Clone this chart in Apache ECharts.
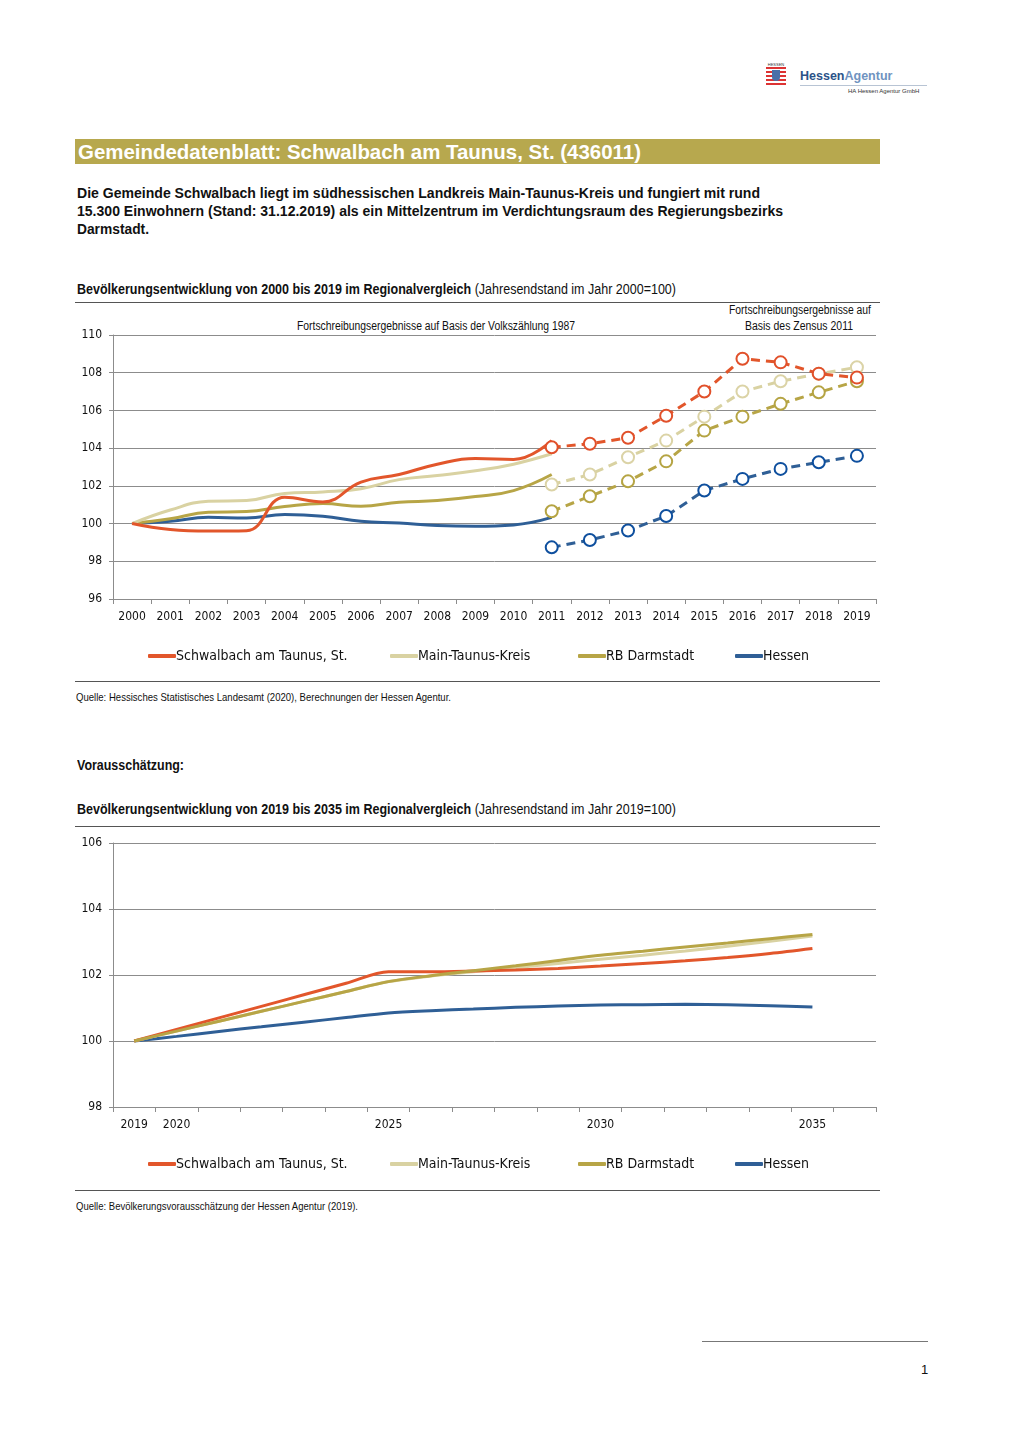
<!DOCTYPE html>
<html><head><meta charset="utf-8">
<script src="https://cdn.jsdelivr.net/npm/echarts@6/dist/echarts.min.js"></script>
<style>
html,body{margin:0;padding:0;background:#fff;}
body{width:1020px;height:1443px;position:relative;overflow:hidden;font-family:"Liberation Sans",Arial,sans-serif;color:#111;}
.abs{position:absolute;white-space:nowrap;}
.fit{display:inline-block;transform-origin:0 50%;}
.rule{position:absolute;height:0;border-top:1.5px solid #555;}
</style></head><body>
<!-- logo -->
<div class="abs" style="left:766px;top:62px;width:20px;height:24px;">
  <div style="font-size:4px;color:#333;text-align:center;line-height:5px;">HESSEN</div>
  <div style="width:20px;height:18px;background:repeating-linear-gradient(#d33 0 2px,#fff 2px 4px);position:relative;">
    <div style="position:absolute;left:6px;top:3px;width:8px;height:11px;background:#4a6fa8;border-radius:0 0 4px 4px;"></div>
  </div>
</div>
<div class="abs" style="left:800px;top:69px;font-size:12.5px;font-weight:bold;"><span style="color:#2b5288">Hessen</span><span style="color:#6f93c0">Agentur</span></div>
<div class="abs" style="left:800px;top:85px;width:127px;border-top:1px solid #b8c4d4;"></div>
<div class="abs" style="left:848px;top:88px;font-size:6px;color:#333;">HA Hessen Agentur GmbH</div>

<!-- title bar -->
<div class="abs" style="left:75px;top:139px;width:805px;height:25px;background:#b7a84e;"></div>
<div class="abs fit" data-w="563" style="left:78px;top:139px;line-height:25px;font-size:21px;font-weight:bold;color:#fff;">Gemeindedatenblatt: Schwalbach am Taunus, St. (436011)</div>

<div class="abs fit" data-w="683" style="left:77px;top:185px;font-size:14px;font-weight:bold;">Die Gemeinde Schwalbach liegt im südhessischen Landkreis Main-Taunus-Kreis und fungiert mit rund</div>
<div class="abs fit" data-w="706" style="left:77px;top:203px;font-size:14px;font-weight:bold;">15.300 Einwohnern (Stand: 31.12.2019) als ein Mittelzentrum im Verdichtungsraum des Regierungsbezirks</div>
<div class="abs fit" data-w="72" style="left:77px;top:221px;font-size:14px;font-weight:bold;">Darmstadt.</div>

<!-- chart 1 header -->
<div class="abs fit" data-w="599" style="left:77px;top:281px;font-size:14px;"><b>Bevölkerungsentwicklung von 2000 bis 2019 im Regionalvergleich</b> (Jahresendstand im Jahr 2000=100)</div>
<div class="rule" style="left:75px;top:302px;width:805px;"></div>
<div class="abs fit" data-w="278" style="left:297px;top:319px;font-size:12px;">Fortschreibungsergebnisse auf Basis der Volkszählung 1987</div>
<div class="abs fit" data-w="142" style="left:729px;top:303px;font-size:12px;">Fortschreibungsergebnisse auf</div>
<div class="abs fit" data-w="108" style="left:745px;top:319px;font-size:12px;">Basis des Zensus 2011</div>

<div id="c1" class="abs" style="left:0;top:300px;width:1020px;height:375px;"></div>
<div class="rule" style="left:75px;top:681px;width:805px;"></div>
<div class="abs fit" data-w="375" style="left:76px;top:691px;font-size:10.5px;">Quelle: Hessisches Statistisches Landesamt (2020), Berechnungen der Hessen Agentur.</div>

<div class="abs fit" data-w="107" style="left:77px;top:757px;font-size:14px;font-weight:bold;">Vorausschätzung:</div>
<div class="abs fit" data-w="599" style="left:77px;top:801px;font-size:14px;"><b>Bevölkerungsentwicklung von 2019 bis 2035 im Regionalvergleich</b> (Jahresendstand im Jahr 2019=100)</div>
<div class="rule" style="left:75px;top:826px;width:805px;"></div>

<div id="c2" class="abs" style="left:0;top:830px;width:1020px;height:355px;"></div>
<div class="rule" style="left:75px;top:1190px;width:805px;"></div>
<div class="abs fit" data-w="282" style="left:76px;top:1200px;font-size:10.5px;">Quelle: Bevölkerungsvorausschätzung der Hessen Agentur (2019).</div>

<div class="abs" style="left:702px;top:1341px;width:226px;border-top:1px solid #777;"></div>
<div class="abs" style="left:921px;top:1362px;font-size:13px;">1</div>

<script>
// ---------- data chart 1 ----------
const years1 = ['2000','2001','2002','2003','2004','2005','2006','2007','2008','2009','2010','2011','2012','2013','2014','2015','2016','2017','2018','2019'];
const names = ['Schwalbach am Taunus, St.','Main-Taunus-Kreis','RB Darmstadt','Hessen'];
// Fortschreibung Volkszählung 1987 (2000-2011)
const schwalbachVZ = [100,99.68,99.6,99.62,101.4,101.15,102.2,102.6,103.15,103.45,103.4,104.4];
const mtkVZ        = [100,100.72,101.18,101.22,101.6,101.68,101.85,102.33,102.55,102.8,103.15,103.7];
const rbdVZ        = [100,100.25,100.6,100.64,100.9,101.06,100.92,101.13,101.22,101.43,101.75,102.6];
const hessenVZ     = [100,100.12,100.33,100.3,100.48,100.39,100.12,100.03,99.9,99.86,99.93,100.33];
// Fortschreibung Zensus 2011 (2011-2019)
const schwalbachZ = [104.05,104.23,104.55,105.72,107.0,108.74,108.55,107.95,107.74];
const mtkZ        = [102.07,102.6,103.52,104.4,105.67,107.0,107.55,107.94,108.29];
const rbdZ        = [100.65,101.45,102.24,103.3,104.93,105.67,106.35,106.96,107.55];
const hessenZ     = [98.74,99.13,99.63,100.4,101.75,102.37,102.9,103.25,103.59];

// ---------- data chart 2 ----------
const years2 = ['2019','2020','2021','2022','2023','2024','2025','2026','2027','2028','2029','2030','2031','2032','2033','2034','2035','2036'];
const xLabels2 = ['2019','2020','2025','2030','2035'];
const schwalbachP = [100,100.35,100.7,101.05,101.4,101.75,102.1,102.1,102.12,102.15,102.2,102.27,102.35,102.43,102.53,102.65,102.8];
const mtkP        = [100,100.3,100.6,100.9,101.2,101.5,101.8,101.97,102.1,102.22,102.35,102.48,102.6,102.73,102.87,103.02,103.18];
const rbdP        = [100,100.3,100.6,100.9,101.2,101.5,101.8,101.98,102.13,102.28,102.44,102.6,102.72,102.85,102.97,103.1,103.23];
const hessenP     = [100,100.14,100.29,100.43,100.57,100.71,100.85,100.92,100.97,101.02,101.06,101.09,101.1,101.11,101.1,101.07,101.03];

const lineColors = ['#e2562b','#d9d2a2','#b7a546','#2f5f96'];
const markColors = ['#e1502a','#dbd3a6','#b5a443','#0e4f9e'];
const FONT = "'DejaVu Sans Condensed','Liberation Sans',sans-serif";

// fit HTML text widths to the reference (narrow font look)
document.querySelectorAll('.fit').forEach(el=>{
  const w = el.getBoundingClientRect().width;
  const t = +el.dataset.w;
  if (w>0) el.style.transform = 'scaleX(' + (t/w) + ')';
});

function pad(arr, before, total){ const r=[]; for(let i=0;i<before;i++) r.push(null); arr.forEach(v=>r.push(v)); while(r.length<total) r.push(null); return r; }

function legends(top){
  const lefts=[148,390,578,735];
  return names.map((n,i)=>({data:[n],left:lefts[i],top:top,padding:0,icon:'roundRect',itemWidth:28,itemHeight:4,itemGap:0,
    textStyle:{fontFamily:FONT,fontSize:14,color:'#111',padding:[0,0,0,-5]}}));
}
const gridLine = {show:true,lineStyle:{color:'#8c8c8c',width:1}};
const axisGray = {show:true,lineStyle:{color:'#8c8c8c',width:1}};

const c1 = echarts.init(document.getElementById('c1'),null,{renderer:'canvas'});
const vz=[schwalbachVZ,mtkVZ,rbdVZ,hessenVZ], zz=[schwalbachZ,mtkZ,rbdZ,hessenZ];
const s1=[];
names.forEach((n,i)=>{
  s1.push({name:n,type:'line',smooth:0.45,symbol:'none',data:pad(vz[i],0,20),
    lineStyle:{color:lineColors[i],width:3},itemStyle:{color:lineColors[i]},z:5-i});
});
names.forEach((n,i)=>{
  s1.push({name:n,type:'line',smooth:false,symbol:'emptyCircle',symbolSize:12,data:pad(zz[i],11,20),
    lineStyle:{color:lineColors[i],width:3,type:[9,6]},itemStyle:{color:markColors[i],borderColor:markColors[i],borderWidth:2.5},z:10-i});
});
c1.setOption({
  animation:false,
  grid:{left:113,right:144,top:35,height:264},
  legend:legends(349),
  xAxis:{type:'category',data:years1,boundaryGap:true,axisLine:axisGray,
    axisTick:{show:true,length:5,lineStyle:{color:'#8c8c8c'},interval:0},
    axisLabel:{fontFamily:FONT,fontSize:12,color:'#111',margin:12,interval:0}},
  yAxis:{type:'value',min:96,max:110,interval:2,splitLine:gridLine,axisLine:axisGray,
    axisTick:{show:true,length:4,lineStyle:{color:'#8c8c8c'}},
    axisLabel:{fontFamily:FONT,fontSize:12,color:'#111',margin:11}},
  series:s1
});

const c2 = echarts.init(document.getElementById('c2'),null,{renderer:'canvas'});
const pp=[schwalbachP,mtkP,rbdP,hessenP];
c2.setOption({
  animation:false,
  grid:{left:113,right:144,top:13,height:264},
  legend:legends(327),
  xAxis:{type:'category',data:years2,boundaryGap:true,axisLine:axisGray,
    axisTick:{show:true,length:5,lineStyle:{color:'#8c8c8c'},interval:0},
    axisLabel:{fontFamily:FONT,fontSize:12,color:'#111',margin:12,
      interval:(idx,val)=>xLabels2.indexOf(val)>=0}},
  yAxis:{type:'value',min:98,max:106,interval:2,splitLine:gridLine,axisLine:axisGray,
    axisTick:{show:true,length:4,lineStyle:{color:'#8c8c8c'}},
    axisLabel:{fontFamily:FONT,fontSize:12,color:'#111',margin:11}},
  series:names.map((n,i)=>({name:n,type:'line',smooth:0.3,symbol:'none',data:pp[i],
    lineStyle:{color:lineColors[i],width:3},itemStyle:{color:lineColors[i]},z:[2,1,3,0][i]}))
});
</script>
</body></html>
